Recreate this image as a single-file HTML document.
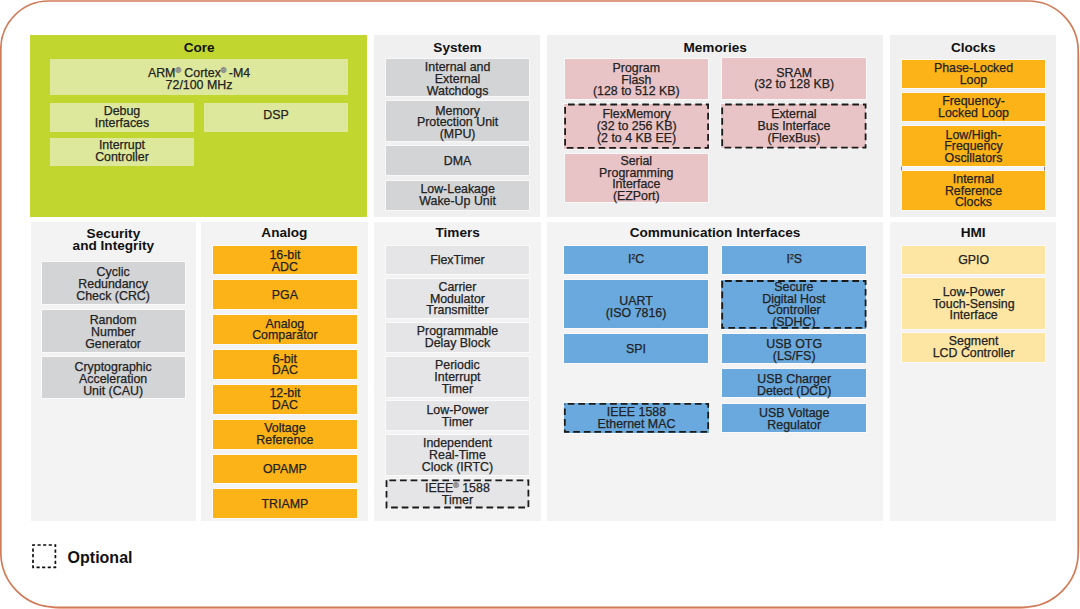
<!DOCTYPE html>
<html><head><meta charset="utf-8"><title>Block Diagram</title>
<style>
html,body{margin:0;padding:0;background:#fff;}
body{width:1080px;height:609px;position:relative;overflow:hidden;font-family:"Liberation Sans",sans-serif;}
.frame{position:absolute;left:0;top:0;}
.p{position:absolute;}
.b{position:absolute;display:flex;flex-direction:column;align-items:center;justify-content:center;text-align:center;font-size:12.4px;line-height:11.72px;color:#222;}
.b span{display:block;white-space:nowrap;-webkit-text-stroke:0.25px #222;}
.b sup{font-size:0.55em;vertical-align:0;position:relative;top:-0.6em;line-height:0;}
.b sup.r{font-size:0.6em;color:#8a8a8a;-webkit-text-stroke:0.6px #8a8a8a;top:-0.55em;}
.t{position:absolute;font-weight:bold;font-size:13.6px;line-height:12px;color:#111;white-space:nowrap;text-align:center;transform:translateX(-50%);}
svg.d{position:absolute;left:0;top:0;overflow:visible;}
.leg{position:absolute;left:67.6px;top:550.2px;font-weight:bold;font-size:16px;line-height:16px;color:#111;}
</style></head><body>
<div class="p" style="left:0;top:608px;width:1080px;height:1px;background:linear-gradient(90deg,#fff 0,#fff 50px,#f3bca4 60px,#f3bca4 1020px,#fff 1030px)"></div>
<div class="p" style="left:1079px;top:0;width:1px;height:609px;background:linear-gradient(180deg,#fff 0,#fff 50px,#fedcc4 60px,#fedcc4 545px,#fff 555px)"></div>
<svg class="frame" width="1080" height="609"><path d="M48.8 1H1028.2A50 50 0 0 1 1078.2 51V552.3A55 55 0 0 1 1023.2 607.3H55.8A55 55 0 0 1 0.8 552.3V49A48 48 0 0 1 48.8 1Z" fill="none" stroke="#d27b58" stroke-width="1.7"/></svg>

<div class="p" style="left:30.4px;top:34.6px;width:337.1px;height:182.4px;background:#c1d72f"></div>
<div class="p" style="left:374.4px;top:35px;width:166px;height:182px;background:#f0f0f0"></div>
<div class="p" style="left:546.9px;top:35px;width:336.1px;height:182px;background:#f0f0f0"></div>
<div class="p" style="left:890.4px;top:35px;width:165.4px;height:181.6px;background:#f0f0f0"></div>
<div class="p" style="left:30.5px;top:221.8px;width:165.7px;height:299.4px;background:#f3f3f3"></div>
<div class="p" style="left:201.3px;top:221.8px;width:166.3px;height:299.4px;background:#f3f3f3"></div>
<div class="p" style="left:374.4px;top:221.8px;width:166.2px;height:299.4px;background:#f3f3f3"></div>
<div class="p" style="left:547.4px;top:221.8px;width:335.6px;height:299.4px;background:#f3f3f3"></div>
<div class="p" style="left:890.4px;top:221.8px;width:165.2px;height:299.4px;background:#f3f3f3"></div>
<div class="p" style="left:902px;top:165.6px;width:143px;height:5.1px;background:#f3f4f8"></div>
<div class="p" style="left:901.4px;top:166px;width:1px;height:4.5px;background:#7c8290"></div>
<div class="p" style="left:1044.3px;top:166px;width:1px;height:4.5px;background:#808080"></div>
<div class="b" style="left:50px;top:58.5px;width:298px;height:36.5px;background:#dde89d"><div style="position:relative;top:3px"><span>ARM<sup class="r">&reg;</sup> Cortex<sup class="r">&reg;</sup>&thinsp;-M4</span><span>72/100 MHz</span></div></div>
<div class="b" style="left:50px;top:103px;width:144px;height:28.7px;background:#dde89d"><div style="position:relative;top:0.2px"><span>Debug</span><span>Interfaces</span></div></div>
<div class="b" style="left:204px;top:103px;width:144px;height:28.7px;background:#dde89d"><div style="position:relative;top:-1.8px"><span>DSP</span></div></div>
<div class="b" style="left:50px;top:138px;width:144px;height:28.2px;background:#dde89d"><span>Interrupt</span><span>Controller</span></div>
<div class="b" style="left:386px;top:58.7px;width:143.2px;height:37.3px;background:#d3d4d6;box-shadow:0 0 0 1px rgba(255,255,255,.55)"><div style="position:relative;top:2.5px"><span>Internal and</span><span>External</span><span>Watchdogs</span></div></div>
<div class="b" style="left:386px;top:100.8px;width:143.2px;height:39.8px;background:#d3d4d6;box-shadow:0 0 0 1px rgba(255,255,255,.55)"><div style="position:relative;top:2.6px"><span>Memory</span><span>Protection Unit</span><span>(MPU)</span></div></div>
<div class="b" style="left:386px;top:146.2px;width:143.2px;height:28.8px;background:#d3d4d6;box-shadow:0 0 0 1px rgba(255,255,255,.55)"><div style="position:relative;top:0.8px"><span>DMA</span></div></div>
<div class="b" style="left:386px;top:180.8px;width:143.2px;height:28.8px;background:#d3d4d6;box-shadow:0 0 0 1px rgba(255,255,255,.55)"><div style="position:relative;top:0.8px"><span>Low-Leakage</span><span>Wake-Up Unit</span></div></div>
<div class="b" style="left:564.6px;top:58.7px;width:143.4px;height:40.3px;background:#e9c4c7;box-shadow:0 0 0 1px rgba(255,255,255,.55)"><div style="position:relative;top:1.6px"><span>Program</span><span>Flash</span><span>(128 to 512 KB)</span></div></div>
<div class="b" style="left:564.2px;top:103.6px;width:144.8px;height:45.1px;background:#e9c4c7;box-shadow:0 0 0 1px rgba(255,255,255,.55)"><div style="position:relative;top:0.8px"><span>FlexMemory</span><span>(32 to 256 KB)</span><span>(2 to 4 KB EE)</span></div></div>
<div class="b" style="left:564.6px;top:153.6px;width:143.4px;height:48.5px;background:#e9c4c7;box-shadow:0 0 0 1px rgba(255,255,255,.55)"><div style="position:relative;top:1.4px"><span>Serial</span><span>Programming</span><span>Interface</span><span>(EZPort)</span></div></div>
<div class="b" style="left:722.4px;top:58.4px;width:143.6px;height:40.6px;background:#e9c4c7;box-shadow:0 0 0 1px rgba(255,255,255,.55)"><div style="position:relative;top:0.8px"><span>SRAM</span><span>(32 to 128 KB)</span></div></div>
<div class="b" style="left:721.3px;top:103.6px;width:145.2px;height:44.9px;background:#e9c4c7;box-shadow:0 0 0 1px rgba(255,255,255,.55)"><div style="position:relative;top:0.8px"><span>External</span><span>Bus Interface</span><span>(FlexBus)</span></div></div>
<div class="b" style="left:901.7px;top:59.5px;width:143.6px;height:28.8px;background:#fcb318;box-shadow:0 0 0 1px rgba(255,255,255,.55)"><div style="position:relative;top:0.8px"><span>Phase-Locked</span><span>Loop</span></div></div>
<div class="b" style="left:901.7px;top:93.3px;width:143.6px;height:28.2px;background:#fcb318;box-shadow:0 0 0 1px rgba(255,255,255,.55)"><div style="position:relative;top:0.8px"><span>Frequency-</span><span>Locked Loop</span></div></div>
<div class="b" style="left:901.7px;top:126px;width:143.6px;height:40px;background:#fcb318;box-shadow:0 0 0 1px rgba(255,255,255,.55)"><div style="position:relative;top:1.1px"><span>Low/High-</span><span>Frequency</span><span>Oscillators</span></div></div>
<div class="b" style="left:901.7px;top:170.7px;width:143.6px;height:39.7px;background:#fcb318;box-shadow:0 0 0 1px rgba(255,255,255,.55)"><div style="position:relative;top:1.1px"><span>Internal</span><span>Reference</span><span>Clocks</span></div></div>
<div class="b" style="left:41.5px;top:261.6px;width:143.2px;height:42.9px;background:#d3d4d6;box-shadow:0 0 0 1px rgba(255,255,255,.55)"><div style="position:relative;top:1.8px"><span>Cyclic</span><span>Redundancy</span><span>Check (CRC)</span></div></div>
<div class="b" style="left:41.5px;top:309.5px;width:143.2px;height:42.7px;background:#d3d4d6;box-shadow:0 0 0 1px rgba(255,255,255,.55)"><div style="position:relative;top:2.2px"><span>Random</span><span>Number</span><span>Generator</span></div></div>
<div class="b" style="left:41.5px;top:357.2px;width:143.2px;height:40.4px;background:#d3d4d6;box-shadow:0 0 0 1px rgba(255,255,255,.55)"><div style="position:relative;top:2.7px"><span>Cryptographic</span><span>Acceleration</span><span>Unit (CAU)</span></div></div>
<div class="b" style="left:213.2px;top:245.5px;width:143.4px;height:28.8px;background:#fcb318;box-shadow:0 0 0 1px rgba(255,255,255,.55)"><div style="position:relative;top:2.1px"><span>16-bit</span><span>ADC</span></div></div>
<div class="b" style="left:213.2px;top:280.35px;width:143.4px;height:28.8px;background:#fcb318;box-shadow:0 0 0 1px rgba(255,255,255,.55)"><div style="position:relative;top:0.8px"><span>PGA</span></div></div>
<div class="b" style="left:213.2px;top:315.2px;width:143.4px;height:28.8px;background:#fcb318;box-shadow:0 0 0 1px rgba(255,255,255,.55)"><div style="position:relative;top:0.8px"><span>Analog</span><span>Comparator</span></div></div>
<div class="b" style="left:213.2px;top:350.05px;width:143.4px;height:28.8px;background:#fcb318;box-shadow:0 0 0 1px rgba(255,255,255,.55)"><div style="position:relative;top:0.8px"><span>6-bit</span><span>DAC</span></div></div>
<div class="b" style="left:213.2px;top:384.9px;width:143.4px;height:28.8px;background:#fcb318;box-shadow:0 0 0 1px rgba(255,255,255,.55)"><div style="position:relative;top:0.8px"><span>12-bit</span><span>DAC</span></div></div>
<div class="b" style="left:213.2px;top:419.75px;width:143.4px;height:28.8px;background:#fcb318;box-shadow:0 0 0 1px rgba(255,255,255,.55)"><div style="position:relative;top:0.8px"><span>Voltage</span><span>Reference</span></div></div>
<div class="b" style="left:213.2px;top:454.6px;width:143.4px;height:28.8px;background:#fcb318;box-shadow:0 0 0 1px rgba(255,255,255,.55)"><div style="position:relative;top:0.8px"><span>OPAMP</span></div></div>
<div class="b" style="left:213.2px;top:489.45px;width:143.4px;height:28.8px;background:#fcb318;box-shadow:0 0 0 1px rgba(255,255,255,.55)"><div style="position:relative;top:0.8px"><span>TRIAMP</span></div></div>
<div class="b" style="left:385.6px;top:245.6px;width:143.7px;height:28.7px;background:#e5e5e7;box-shadow:0 0 0 1px rgba(255,255,255,.55)"><div style="position:relative;top:0.8px"><span>FlexTimer</span></div></div>
<div class="b" style="left:385.6px;top:278.9px;width:143.7px;height:39.5px;background:#e5e5e7;box-shadow:0 0 0 1px rgba(255,255,255,.55)"><div style="position:relative;top:0.8px"><span>Carrier</span><span>Modulator</span><span>Transmitter</span></div></div>
<div class="b" style="left:385.6px;top:322.6px;width:143.7px;height:29px;background:#e5e5e7;box-shadow:0 0 0 1px rgba(255,255,255,.55)"><div style="position:relative;top:0.8px"><span>Programmable</span><span>Delay Block</span></div></div>
<div class="b" style="left:385.6px;top:357.2px;width:143.7px;height:39.6px;background:#e5e5e7;box-shadow:0 0 0 1px rgba(255,255,255,.55)"><div style="position:relative;top:0.8px"><span>Periodic</span><span>Interrupt</span><span>Timer</span></div></div>
<div class="b" style="left:385.6px;top:401.4px;width:143.7px;height:29.1px;background:#e5e5e7;box-shadow:0 0 0 1px rgba(255,255,255,.55)"><div style="position:relative;top:0.8px"><span>Low-Power</span><span>Timer</span></div></div>
<div class="b" style="left:385.6px;top:435.1px;width:143.7px;height:39.6px;background:#e5e5e7;box-shadow:0 0 0 1px rgba(255,255,255,.55)"><div style="position:relative;top:0.8px"><span>Independent</span><span>Real-Time</span><span>Clock (IRTC)</span></div></div>
<div class="b" style="left:385.6px;top:479.4px;width:143.7px;height:29px;background:#e5e5e7;box-shadow:0 0 0 1px rgba(255,255,255,.55)"><div style="position:relative;top:0.8px"><span>IEEE<sup class="r">&reg;</sup> 1588</span><span>Timer</span></div></div>
<div class="b" style="left:564.1px;top:245.6px;width:143.9px;height:28.7px;background:#69a9dd;box-shadow:0 0 0 1px rgba(255,255,255,.55)"><div style="position:relative;top:0.2px"><span>I<sup>2</sup>C</span></div></div>
<div class="b" style="left:564.1px;top:280.3px;width:143.9px;height:48.1px;background:#69a9dd;box-shadow:0 0 0 1px rgba(255,255,255,.55)"><div style="position:relative;top:3.2px"><span>UART</span><span>(ISO 7816)</span></div></div>
<div class="b" style="left:564.1px;top:334.3px;width:143.9px;height:29px;background:#69a9dd;box-shadow:0 0 0 1px rgba(255,255,255,.55)"><div style="position:relative;top:0.8px"><span>SPI</span></div></div>
<div class="b" style="left:563.9px;top:402.9px;width:145.2px;height:29.8px;background:#69a9dd;box-shadow:0 0 0 1px rgba(255,255,255,.55)"><div style="position:relative;top:1.4px"><span>IEEE 1588</span><span>Ethernet MAC</span></div></div>
<div class="b" style="left:722.4px;top:246px;width:143.6px;height:28.1px;background:#69a9dd;box-shadow:0 0 0 1px rgba(255,255,255,.55)"><div style="position:relative;top:0.2px"><span>I<sup>2</sup>S</span></div></div>
<div class="b" style="left:721.3px;top:280.1px;width:145.2px;height:48.7px;background:#69a9dd;box-shadow:0 0 0 1px rgba(255,255,255,.55)"><div style="position:relative;top:0.8px"><span>Secure</span><span>Digital Host</span><span>Controller</span><span>(SDHC)</span></div></div>
<div class="b" style="left:722.4px;top:334.3px;width:143.6px;height:28.5px;background:#69a9dd;box-shadow:0 0 0 1px rgba(255,255,255,.55)"><div style="position:relative;top:2.4px"><span>USB OTG</span><span>(LS/FS)</span></div></div>
<div class="b" style="left:722.4px;top:369.3px;width:143.6px;height:28.2px;background:#69a9dd;box-shadow:0 0 0 1px rgba(255,255,255,.55)"><div style="position:relative;top:2.4px"><span>USB Charger</span><span>Detect (DCD)</span></div></div>
<div class="b" style="left:722.4px;top:403.8px;width:143.6px;height:28.6px;background:#69a9dd;box-shadow:0 0 0 1px rgba(255,255,255,.55)"><div style="position:relative;top:1.7px"><span>USB Voltage</span><span>Regulator</span></div></div>
<div class="b" style="left:901.8px;top:245.7px;width:143.7px;height:28.4px;background:#fde5a4;box-shadow:0 0 0 1px rgba(255,255,255,.55)"><div style="position:relative;top:0.8px"><span>GPIO</span></div></div>
<div class="b" style="left:901.8px;top:278px;width:143.7px;height:50.5px;background:#fde5a4;box-shadow:0 0 0 1px rgba(255,255,255,.55)"><div style="position:relative;top:1.2px"><span>Low-Power</span><span>Touch-Sensing</span><span>Interface</span></div></div>
<div class="b" style="left:901.8px;top:333.2px;width:143.7px;height:28.4px;background:#fde5a4;box-shadow:0 0 0 1px rgba(255,255,255,.55)"><div style="position:relative;top:0.8px"><span>Segment</span><span>LCD Controller</span></div></div>
<svg class="d" width="1080" height="609"><rect x="565.1" y="104.5" width="143" height="43.3" fill="none" stroke="#1a1a1a" stroke-width="1.8" stroke-dasharray="6.7 3.9" stroke-dashoffset="7.7"/><rect x="722.2" y="104.5" width="143.4" height="43.1" fill="none" stroke="#1a1a1a" stroke-width="1.8" stroke-dasharray="6.7 3.9" stroke-dashoffset="7.7"/><rect x="386.5" y="480.3" width="141.9" height="27.2" fill="none" stroke="#1a1a1a" stroke-width="1.8" stroke-dasharray="6.7 3.9" stroke-dashoffset="7.7"/><rect x="564.8" y="403.8" width="143.4" height="28" fill="none" stroke="#1a1a1a" stroke-width="1.8" stroke-dasharray="6.7 3.9" stroke-dashoffset="7.7"/><rect x="722.2" y="281" width="143.4" height="46.9" fill="none" stroke="#1a1a1a" stroke-width="1.8" stroke-dasharray="6.7 3.9" stroke-dashoffset="7.7"/><rect x="33" y="545" width="22.4" height="22.4" fill="none" stroke="#111" stroke-width="1.7" stroke-dasharray="3.2 2.4" stroke-dashoffset="1.1"/></svg>
<div class="t" style="left:199.2px;top:41.59px">Core</div>
<div class="t" style="left:457.5px;top:41.69px">System</div>
<div class="t" style="left:715.2px;top:41.59px">Memories</div>
<div class="t" style="left:973.2px;top:41.59px">Clocks</div>
<div class="t" style="left:113.4px;top:227.79px">Security</div>
<div class="t" style="left:113.4px;top:239.79px">and Integrity</div>
<div class="t" style="left:284.4px;top:227.39px">Analog</div>
<div class="t" style="left:457.7px;top:227.39px">Timers</div>
<div class="t" style="left:715px;top:227.39px">Communication Interfaces</div>
<div class="t" style="left:973.2px;top:227.39px">HMI</div>
<div class="leg">Optional</div>
</body></html>
